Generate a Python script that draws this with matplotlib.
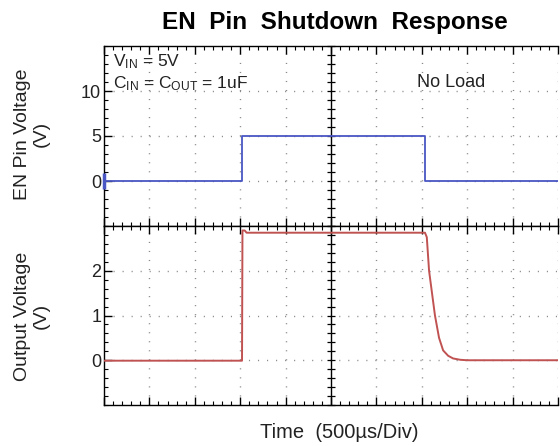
import numpy as np
import matplotlib
matplotlib.use("Agg")
import matplotlib.pyplot as plt
from matplotlib.ticker import MultipleLocator, NullFormatter, FixedLocator

plt.rcParams['font.family'] = ['Liberation Sans', 'DejaVu Sans']
plt.rcParams['mathtext.fontset'] = 'custom'
plt.rcParams['mathtext.rm'] = 'Liberation Sans'
plt.rcParams['mathtext.it'] = 'Liberation Sans'

# ---- data (time in divisions of 500 us) ----
t_en = [0.0, 3.04, 3.04, 7.08, 7.08, 10.0]
v_en = [0.0, 0.0, 5.0, 5.0, 0.0, 0.0]

t_out = [0.0, 3.04, 3.05, 3.10, 3.14, 7.07, 7.11, 7.16, 7.29, 7.38, 7.47, 7.58, 7.69, 7.85, 8.0, 10.0]
v_out = [-0.01, -0.01, 2.90, 2.90, 2.85, 2.85, 2.75, 2.0, 1.0, 0.5, 0.22, 0.10, 0.04, 0.01, 0.0, 0.0]

en_ticks = [0, 5, 10]
out_ticks = [0, 1, 2]
title = "EN  Pin  Shutdown  Response"
en_label = "EN Pin Voltage\n(V)"
out_label = "Output Voltage\n(V)"
x_label = "Time  (500\u00b5s/Div)"

blue = '#4a56c4'
red = '#c05252'
grid_kw = dict(color='#8a8a8a', linestyle=(0, (0.8, 5.7)), linewidth=1.0)

fig = plt.figure(figsize=(5.6, 4.46), dpi=100)
W, H = 560, 446
L, R = 104, 558
ax1 = fig.add_axes([L / W, (H - 226) / H, (R - L) / W, 180 / H])
ax2 = fig.add_axes([L / W, (H - 405) / H, (R - L) / W, 179 / H])

def style(ax, ylim, yticks, yminor):
    ax.set_xlim(0, 10)
    ax.set_ylim(*ylim)
    ax.spines['right'].set_visible(False)
    for s in ['left', 'top', 'bottom']:
        ax.spines[s].set_linewidth(1.0)
    ax.xaxis.set_major_locator(MultipleLocator(1))
    ax.xaxis.set_minor_locator(MultipleLocator(0.2))
    ax.xaxis.set_major_formatter(NullFormatter())
    ax.yaxis.set_major_locator(FixedLocator(yticks))
    ax.yaxis.set_minor_locator(MultipleLocator(yminor))
    ax.tick_params(axis='both', which='major', direction='in', length=6, width=1.0,
                   top=True, bottom=True, left=True, right=False, labelsize=13, pad=2,
                   labelcolor='#222222')
    ax.tick_params(axis='both', which='minor', direction='in', length=3, width=0.8,
                   top=True, bottom=True, left=True, right=False)
    for x in np.arange(1, 11):
        if x != 5:
            ax.axvline(x, **grid_kw, zorder=1)
    for y in yticks:
        ax.axhline(y, **grid_kw, zorder=1)
    # centre graticule line with tick marks
    ax.axvline(5, color='black', lw=1.0, zorder=2)
    ymin, ymax = ylim
    ys = np.arange(ymin, ymax + 1e-9, yminor)
    ax.plot(np.full(len(ys), 5.0), ys, ls='none', marker='_', ms=6, mew=0.9, color='black', zorder=2, clip_on=False)

style(ax1, (-5, 15), en_ticks, 1.0)
style(ax2, (-1, 3), out_ticks, 0.2)

ax1.plot(t_en, v_en, color=blue, lw=1.3, zorder=3)
ax1.plot(t_en[0], v_en[0], marker='|', ms=12, mew=2.5, color=blue, clip_on=False, zorder=4)
ax2.plot(t_out, v_out, color=red, lw=1.4, zorder=3)

ax1.text(0.02, 0.965, r'V$_{\mathrm{IN}}$ = 5V', transform=ax1.transAxes, fontsize=12.5,
         va='top', ha='left', color='#222222')
ax1.text(0.02, 0.845, r'C$_{\mathrm{IN}}$ = C$_{\mathrm{OUT}}$ = 1uF', transform=ax1.transAxes, fontsize=12.5,
         va='top', ha='left', color='#222222')
ax1.text(0.69, 0.845, 'No Load', transform=ax1.transAxes, fontsize=13,
         va='top', ha='left', color='#222222')

fig.text(335 / W, 1 - 22 / H, title, ha='center', va='center', fontsize=17.5, fontweight='bold')
fig.text(32 / W, 1 - 134 / H, en_label, ha='center', va='center', rotation=90, fontsize=14,
         linespacing=1.1, color='#222222')
fig.text(32 / W, 1 - 316 / H, out_label, ha='center', va='center', rotation=90, fontsize=14,
         linespacing=1.1, color='#222222')
fig.text(339 / W, 1 - 433 / H, x_label, ha='center', va='center', fontsize=14.5, color='#222222')

fig.savefig('out.png', dpi=100)
